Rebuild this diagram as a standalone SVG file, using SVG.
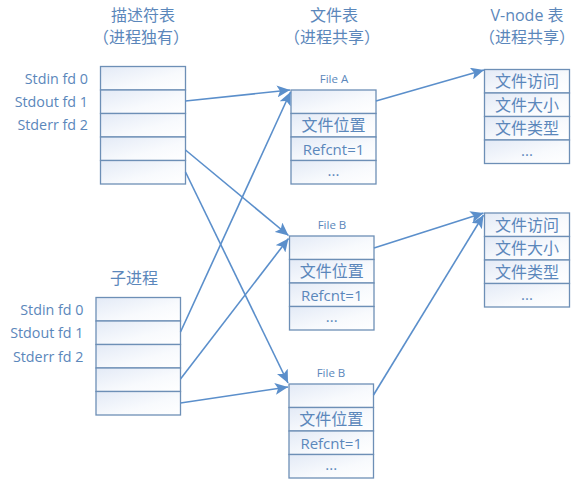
<svg xmlns="http://www.w3.org/2000/svg" width="586" height="485" viewBox="0 0 586 485">
  <style>
    text { font-family: "Open Sans", "Noto Sans CJK SC", sans-serif; fill: #5b87bb; }
    .title { font-size: 16px; text-anchor: middle; dominant-baseline: central; }
    .lbl { font-size: 14.3px; text-anchor: end; dominant-baseline: central; }
    .cell { font-size: 16px; text-anchor: middle; dominant-baseline: central; }
    .lat { font-size: 15px; text-anchor: middle; dominant-baseline: central; }
    .small { font-size: 11.5px; text-anchor: middle; dominant-baseline: central; }
    .box rect { fill: url(#cellFill); stroke: #6d8fb6; stroke-width: 1.3; }
    .conn line { stroke: #5b8fcb; stroke-width: 1.6; marker-end: url(#arrow); }
  </style>
  <defs>
    <linearGradient id="cellFill" x1="0" y1="0" x2="1" y2="1">
      <stop offset="0" stop-color="#e3eaf6"/>
      <stop offset="0.6" stop-color="#f8fafd"/>
      <stop offset="1" stop-color="#ffffff"/>
    </linearGradient>
    <marker id="arrow" markerUnits="userSpaceOnUse" markerWidth="14" markerHeight="12" viewBox="0 0 14 12" refX="13" refY="6" orient="auto">
      <path d="M0,0 L13,6 L0,12 L3,6 Z" fill="#5b8fcb"/>
    </marker>
  </defs>

  <!-- column titles -->
  <text class="title" x="143" y="15">描述符表</text>
  <text class="title" x="141" y="37">（进程独有）</text>
  <text class="title" x="334" y="15">文件表</text>
  <text class="title" x="332" y="37">（进程共享）</text>
  <text class="title" x="527" y="15">V-node 表</text>
  <text class="title" x="527" y="37">（进程共享）</text>

  <!-- parent descriptor table -->
  <g id="parent-fd" class="box">
    <rect x="100.5" y="66.5" width="85" height="23.5"/>
    <rect x="100.5" y="90" width="85" height="23.5"/>
    <rect x="100.5" y="113.5" width="85" height="23.5"/>
    <rect x="100.5" y="137" width="85" height="23.5"/>
    <rect x="100.5" y="160.5" width="85" height="23.5"/>
    <text class="lbl" x="88" y="78">Stdin fd 0</text>
    <text class="lbl" x="88" y="101">Stdout fd 1</text>
    <text class="lbl" x="88" y="124.5">Stderr fd 2</text>
  </g>

  <!-- child descriptor table -->
  <g id="child-fd" class="box">
    <text class="title" x="134" y="278">子进程</text>
    <rect x="96" y="297.5" width="84.5" height="23.5"/>
    <rect x="96" y="321" width="84.5" height="23.5"/>
    <rect x="96" y="344.5" width="84.5" height="23.5"/>
    <rect x="96" y="368" width="84.5" height="23.5"/>
    <rect x="96" y="391.5" width="84.5" height="23.5"/>
    <text class="lbl" x="83.5" y="309">Stdin fd 0</text>
    <text class="lbl" x="83.5" y="332">Stdout fd 1</text>
    <text class="lbl" x="83.5" y="356">Stderr fd 2</text>
  </g>

  <!-- file table entry A -->
  <g id="file-a" class="box">
    <text class="small" x="334" y="78">File A</text>
    <rect x="291" y="90" width="85" height="23.5"/>
    <rect x="291" y="113.5" width="85" height="23.5"/>
    <rect x="291" y="137" width="85" height="23.5"/>
    <rect x="291" y="160.5" width="85" height="23.5"/>
    <text class="cell" x="333.5" y="125">文件位置</text>
    <text class="lat" x="333.5" y="148.5">Refcnt=1</text>
    <text class="lat" x="333.5" y="170">...</text>
  </g>

  <!-- file table entry B (middle) -->
  <g id="file-b1" class="box">
    <text class="small" x="332" y="224">File B</text>
    <rect x="289.5" y="236" width="84.5" height="23.5"/>
    <rect x="289.5" y="259.5" width="84.5" height="23.5"/>
    <rect x="289.5" y="283" width="84.5" height="23.5"/>
    <rect x="289.5" y="306.5" width="84.5" height="23.5"/>
    <text class="cell" x="331.7" y="271">文件位置</text>
    <text class="lat" x="331.7" y="294.5">Refcnt=1</text>
    <text class="lat" x="331.7" y="316">...</text>
  </g>

  <!-- file table entry B (lower) -->
  <g id="file-b2" class="box">
    <text class="small" x="331" y="372">File B</text>
    <rect x="289" y="384" width="84.5" height="23.5"/>
    <rect x="289" y="407.5" width="84.5" height="23.5"/>
    <rect x="289" y="431" width="84.5" height="23.5"/>
    <rect x="289" y="454.5" width="84.5" height="23.5"/>
    <text class="cell" x="331.2" y="419">文件位置</text>
    <text class="lat" x="331.2" y="442.5">Refcnt=1</text>
    <text class="lat" x="331.2" y="464">...</text>
  </g>

  <!-- v-node entry (top) -->
  <g id="vnode-a" class="box">
    <rect x="484.5" y="69.5" width="85" height="23.5"/>
    <rect x="484.5" y="93" width="85" height="23.5"/>
    <rect x="484.5" y="116.5" width="85" height="23.5"/>
    <rect x="484.5" y="140" width="85" height="23.5"/>
    <text class="cell" x="527" y="81">文件访问</text>
    <text class="cell" x="527" y="104.5">文件大小</text>
    <text class="cell" x="527" y="128">文件类型</text>
    <text class="lat" x="527" y="150">...</text>
  </g>

  <!-- v-node entry (lower) -->
  <g id="vnode-b" class="box">
    <rect x="484.5" y="213" width="85" height="23.5"/>
    <rect x="484.5" y="236.5" width="85" height="23.5"/>
    <rect x="484.5" y="260" width="85" height="23.5"/>
    <rect x="484.5" y="283.5" width="85" height="23.5"/>
    <text class="cell" x="527" y="224.5">文件访问</text>
    <text class="cell" x="527" y="248">文件大小</text>
    <text class="cell" x="527" y="271.5">文件类型</text>
    <text class="lat" x="527" y="293.5">...</text>
  </g>

  <!-- connectors -->
  <g id="connectors" class="conn">
    <line x1="185.5" y1="101" x2="290" y2="90"/>
    <line x1="185.5" y1="150" x2="288.5" y2="235.5"/>
    <line x1="185.5" y1="172" x2="288" y2="383"/>
    <line x1="180.5" y1="332" x2="290.5" y2="92"/>
    <line x1="180.5" y1="379" x2="288.5" y2="238.5"/>
    <line x1="180.5" y1="403" x2="288" y2="387"/>
    <line x1="376" y1="101" x2="484" y2="70"/>
    <line x1="374" y1="248" x2="483.5" y2="213"/>
    <line x1="373.5" y1="395" x2="483.5" y2="215"/>
  </g>
</svg>
